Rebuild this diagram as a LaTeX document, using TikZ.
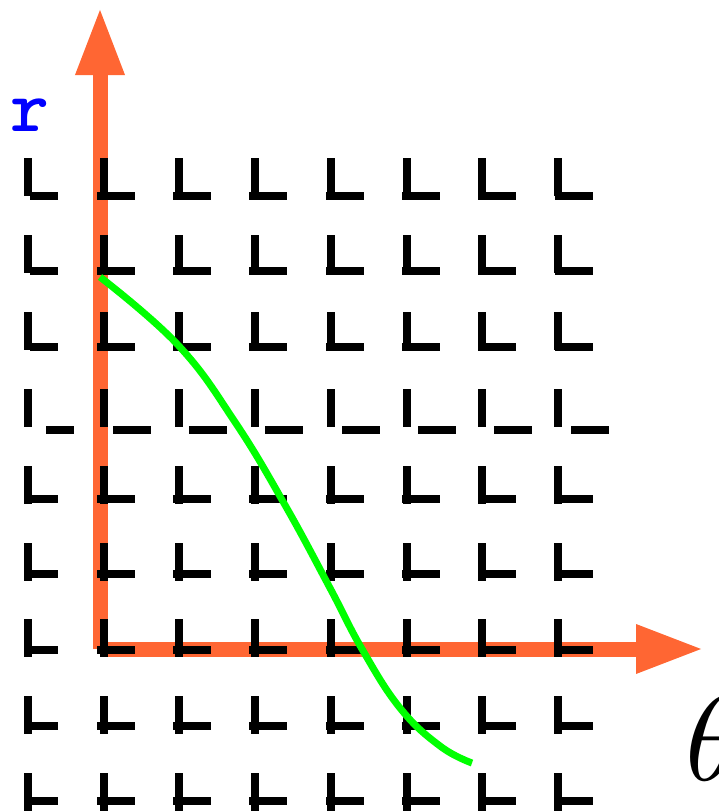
\documentclass[tikz,border=0pt]{standalone}
\usepackage{tikz}
\usetikzlibrary{arrows.meta}
\definecolor{axisorange}{RGB}{255,102,51}
\definecolor{curvegreen}{RGB}{0,255,0}
\definecolor{labelblue}{RGB}{0,0,255}
\tikzset{
  axis/.style={line width=15pt, axisorange, -{Triangle[length=68pt,width=45pt]}},
  curve/.style={line width=7pt, curvegreen},
  bar/.style={fill=black}
}
% one mark: vertical bar at #1, top #2; horizontal bar from #3 to #4, centred at #5
\newcommand{\markL}[5]{%
  \fill[bar] ({#1-4},#2) rectangle ({#1+4},{#2+38});
  \fill[bar] (#3,{#5-4}) rectangle (#4,{#5+4});%
}

\begin{document}
\begin{tikzpicture}[x=1pt, y=-1pt]
    \useasboundingbox (0,0) rectangle (718,811);

      % axes
      \coordinate (O) at (100,649);
      \coordinate (rtip) at (100,7);
      \coordinate (ttip) at (704,649);
      \draw[axis] (O) -- (rtip);
      \draw[axis] (O) -- (ttip);

      % marks, row by row (vertical shift and horizontal slip of the bar)
      \foreach \row/\dy/\sx in {
        1/0/0,
        2/-2/0,
        3/-3/0,
        4/3.5/16,
        5/-5/0,
        6/-6.5/0,
        7/-7.5/0,
        8/-8.5/0,
        9/-10.5/0
      }{
        \foreach \col in {1,...,8}{
          \pgfmathsetmacro{\xc}{28+75.7*(\col-1)}
          \pgfmathsetmacro{\ytop}{158+76.9*(\row-1)}
          \pgfmathsetmacro{\hs}{(\col==1) ? \xc+2+\sx : \xc-7+0.6*(\col-2)+\sx}
          \pgfmathsetmacro{\he}{(\col==1) ? \xc+30+\sx : \hs+38}
          \pgfmathsetmacro{\hc}{\ytop+38+\dy}
          \markL{\xc}{\ytop}{\hs}{\he}{\hc}
        }
      }

      % curve
      \draw[curve] plot[smooth, tension=0.7] coordinates {
        (100,277) (178,345) (235,422) (285,505) (330,588)
        (362,649) (400,708) (440,746) (472,763)
      };

      % labels
      \node[anchor=base west, inner sep=0, labelblue]
        (rlabel) at (10,131) {\ttfamily\bfseries\fontsize{74}{74}\selectfont r};
      \node[anchor=base west, inner sep=0, scale=12]
        (thetalabel) at (683,780) {$\theta$};

    \end{tikzpicture}
\end{document}
